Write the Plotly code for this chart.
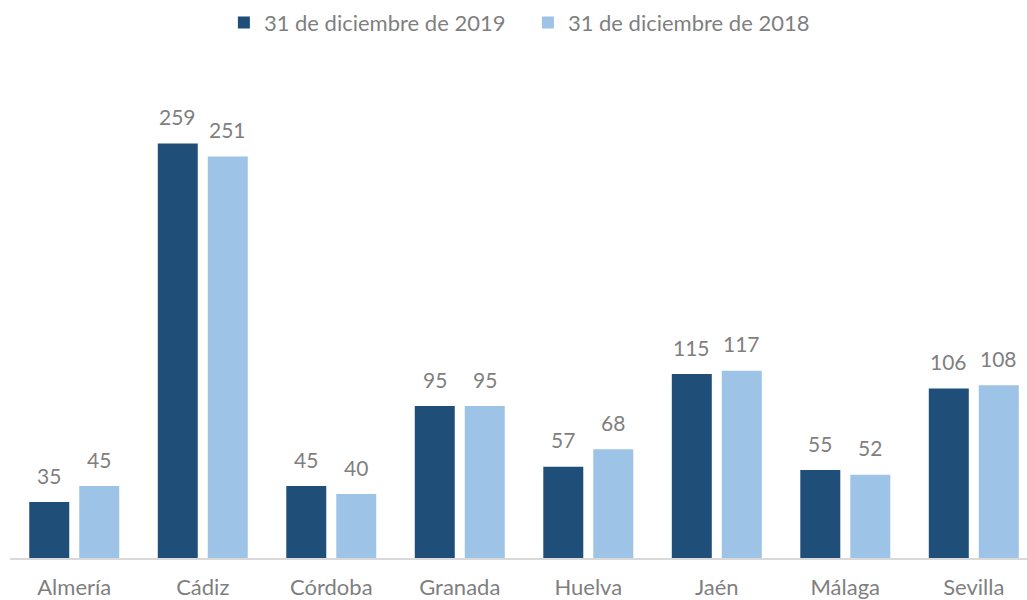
import plotly.graph_objects as go

categories = ["Almería", "Cádiz", "Córdoba", "Granada", "Huelva", "Jaén", "Málaga", "Sevilla"]
series_2019 = [35, 259, 45, 95, 57, 115, 55, 106]
series_2018 = [45, 251, 40, 95, 68, 117, 52, 108]
name_2019 = "31 de diciembre de 2019"
name_2018 = "31 de diciembre de 2018"

FONT = "Lato"
GRAY = "#7f7f7f"
DARK = "#1f4e79"
LIGHT = "#9dc3e6"

fig = go.Figure()
fig.add_trace(go.Bar(x=categories, y=series_2019, name=name_2019,
                     marker=dict(color=DARK, line=dict(width=0))))
fig.add_trace(go.Bar(x=categories, y=series_2018, name=name_2018,
                     marker=dict(color=LIGHT, line=dict(width=0))))

# value labels above each bar
for cat, v in zip(categories, series_2019):
    fig.add_annotation(x=cat, y=v, text=str(v), showarrow=False, xshift=-25, yshift=27,
                       yanchor="middle", font=dict(family=FONT, size=21, color=GRAY))
for cat, v in zip(categories, series_2018):
    fig.add_annotation(x=cat, y=v, text=str(v), showarrow=False, xshift=25, yshift=27,
                       yanchor="middle", font=dict(family=FONT, size=21, color=GRAY))

fig.update_layout(
    width=1027, height=600,
    barmode="group", bargap=0.222, bargroupgap=0.2,
    plot_bgcolor="white", paper_bgcolor="white",
    margin=dict(l=10, r=0, t=78, b=42),
    font=dict(family=FONT, color=GRAY),
    showlegend=True,
    legend=dict(
        orientation="h", xref="container", yref="container",
        x=0.218, y=0.962, xanchor="left", yanchor="middle",
        font=dict(family=FONT, size=22, color=GRAY),
        traceorder="normal", entrywidth=259,
    ),
    xaxis=dict(
        range=[-0.5, 7.414], showgrid=False, showline=True,
        linecolor="#d9d9d9", linewidth=1.5, ticks="",
        ticklabelstandoff=9,
        tickfont=dict(family=FONT, size=22, color=GRAY),
    ),
    yaxis=dict(
        range=[0, 300], showgrid=False, showline=False, zeroline=False,
        showticklabels=False, ticks="",
    ),
)

fig.write_html("out.html", config={"displayModeBar": False},
               post_script="document.body.style.margin='0';")
